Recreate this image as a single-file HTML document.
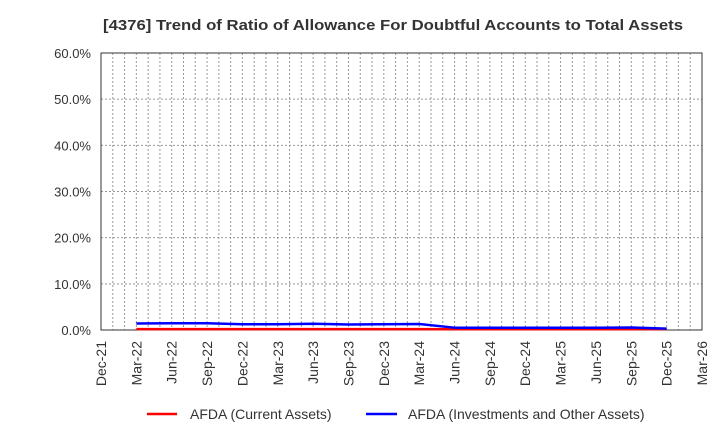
<!DOCTYPE html>
<html><head><meta charset="utf-8"><style>
html,body{margin:0;padding:0;background:#fff;}
svg{display:block;font-family:"Liberation Sans",Arial,sans-serif;}
</style></head><body>
<svg width="720" height="440" viewBox="0 0 720 440" xmlns="http://www.w3.org/2000/svg">
<rect width="720" height="440" fill="#fff"/>
<text x="393" y="30" text-anchor="middle" font-size="15" font-weight="bold" fill="#333" textLength="580" lengthAdjust="spacingAndGlyphs">[4376]  Trend of Ratio of Allowance For Doubtful Accounts to Total Assets</text>
<g stroke="#999" stroke-width="1" stroke-dasharray="2,2" fill="none">
<path d="M101 283.83H702M101 237.67H702M101 191.5H702M101 145.33H702M101 99.17H702"/>
<path d="M112.78 53V330M124.57 53V330M136.35 53V330M148.14 53V330M159.92 53V330M171.71 53V330M183.49 53V330M195.27 53V330M207.06 53V330M218.84 53V330M230.63 53V330M242.41 53V330M254.2 53V330M265.98 53V330M277.76 53V330M289.55 53V330M301.33 53V330M313.12 53V330M324.9 53V330M336.69 53V330M348.47 53V330M360.25 53V330M372.04 53V330M383.82 53V330M395.61 53V330M407.39 53V330M419.18 53V330M430.96 53V330M442.75 53V330M454.53 53V330M466.31 53V330M478.1 53V330M489.88 53V330M501.67 53V330M513.45 53V330M525.24 53V330M537.02 53V330M548.8 53V330M560.59 53V330M572.37 53V330M584.16 53V330M595.94 53V330M607.73 53V330M619.51 53V330M631.29 53V330M643.08 53V330M654.86 53V330M666.65 53V330M678.43 53V330M690.22 53V330"/>
</g>
<rect x="101" y="53" width="601" height="277" fill="none" stroke="#333" stroke-width="1"/>
<g font-size="13" fill="#333" text-anchor="end">
<text x="91" y="335">0.0%</text>
<text x="91" y="288.8">10.0%</text>
<text x="91" y="242.7">20.0%</text>
<text x="91" y="196.5">30.0%</text>
<text x="91" y="150.3">40.0%</text>
<text x="91" y="104.2">50.0%</text>
<text x="91" y="58">60.0%</text>
</g>
<g font-size="14" fill="#333" text-anchor="end">
<text transform="translate(106,341) rotate(-90)">Dec-21</text>
<text transform="translate(141.35,341) rotate(-90)">Mar-22</text>
<text transform="translate(176.7,341) rotate(-90)">Jun-22</text>
<text transform="translate(212.06,341) rotate(-90)">Sep-22</text>
<text transform="translate(247.41,341) rotate(-90)">Dec-22</text>
<text transform="translate(282.76,341) rotate(-90)">Mar-23</text>
<text transform="translate(318.12,341) rotate(-90)">Jun-23</text>
<text transform="translate(353.47,341) rotate(-90)">Sep-23</text>
<text transform="translate(388.82,341) rotate(-90)">Dec-23</text>
<text transform="translate(424.18,341) rotate(-90)">Mar-24</text>
<text transform="translate(459.53,341) rotate(-90)">Jun-24</text>
<text transform="translate(494.88,341) rotate(-90)">Sep-24</text>
<text transform="translate(530.24,341) rotate(-90)">Dec-24</text>
<text transform="translate(565.59,341) rotate(-90)">Mar-25</text>
<text transform="translate(600.94,341) rotate(-90)">Jun-25</text>
<text transform="translate(636.29,341) rotate(-90)">Sep-25</text>
<text transform="translate(671.65,341) rotate(-90)">Dec-25</text>
<text transform="translate(707,341) rotate(-90)">Mar-26</text>
</g>
<polyline fill="none" stroke="#ff0000" stroke-width="2.5" stroke-linejoin="round" points="136.35,329.08 171.71,329.08 207.06,329.08 242.41,329.08 277.76,329.08 313.12,329.08 348.47,329.08 383.82,329.08 419.18,329.08 454.53,329.2 489.88,329.2 525.24,329.2 560.59,329.2 595.94,329.2 631.29,329.2 666.65,329.08"/>
<polyline fill="none" stroke="#0000ff" stroke-width="2.5" stroke-linejoin="round" points="136.35,323.54 171.71,323.31 207.06,323.31 242.41,324.23 277.76,324.23 313.12,323.77 348.47,324.46 383.82,324.23 419.18,324.0 454.53,327.69 489.88,327.69 525.24,327.69 560.59,327.69 595.94,327.69 631.29,327.46 666.65,328.6"/>
<line x1="147" y1="414" x2="177" y2="414" stroke="#ff0000" stroke-width="2.5"/>
<text x="190" y="419" font-size="14" fill="#333">AFDA (Current Assets)</text>
<line x1="366" y1="414" x2="397" y2="414" stroke="#0000ff" stroke-width="2.5"/>
<text x="408" y="419" font-size="14" fill="#333">AFDA (Investments and Other Assets)</text>
</svg>
</body></html>
